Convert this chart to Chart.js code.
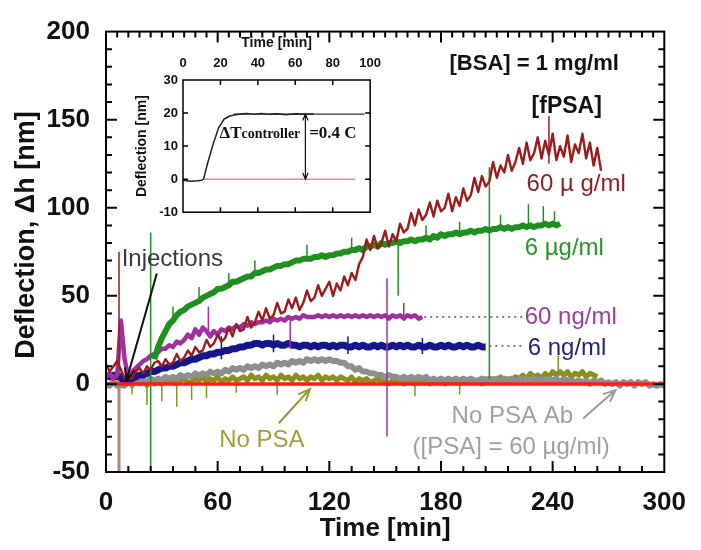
<!DOCTYPE html>
<html>
<head>
<meta charset="utf-8">
<script src="https://cdn.jsdelivr.net/npm/chart.js@4.4.0/dist/chart.umd.min.js"></script>
<style>
  body { margin: 0; background: #fff; }
  #wrap { position: relative; width: 701px; height: 550px; }
  #main { position: absolute; left: 0; top: 0; }
  #inset { position: absolute; left: 130px; top: 30px; }
</style>
</head>
<body>
<div id="wrap">
  <canvas id="main" width="701" height="550"></canvas>
  <canvas id="inset" width="260" height="195"></canvas>
</div>
<script>
// ---- data (deflection in nm, sampled every 2 min) ----
const step = 2;
const xTickValues = [0, 60, 120, 180, 240, 300];
const yTickValues = [-50, 0, 50, 100, 150, 200];

const baseline = [[0, 0], [300, 0]];

// [fPSA] = 60 ug/ml, starts at t = 0
const startDarkRed = 0;
const darkRed60ug = [11, 7, 10, 13, 8, 3, 5, 3, 7, 9, 6, 10, 8, 12, 13, 10, 14, 11, 12, 17,
  13, 15, 19, 16, 21, 18, 19, 25, 21, 23, 28, 24, 26, 32, 27, 34, 30, 31, 38, 32,
  35, 41, 36, 43, 37, 39, 46, 40, 41, 48, 43, 49, 42, 46, 53, 47, 49, 56, 50, 54,
  58, 50, 57, 53, 61, 56, 63, 59, 68, 72, 82, 76, 84, 77, 80, 87, 78, 85, 81, 91,
  86, 88, 97, 90, 99, 93, 96, 103, 95, 104, 98, 100, 108, 98, 106, 101, 111, 104, 107, 117,
  109, 118, 112, 115, 126, 117, 124, 120, 130, 121, 126, 134, 125, 137, 127, 131, 140, 128, 138, 130,
  142, 127, 135, 129, 141, 126, 136, 131, 142, 128, 137, 124, 134, 121];

// 6 ug/ml, starts at t = 26
const startGreen = 26;
const green6ug = [14, 21, 26, 30, 34, 36, 39, 41, 42, 44, 45, 46, 47, 49, 50, 51, 52, 54, 54, 55,
  56, 58, 58, 59, 60, 61, 61, 63, 63, 64, 65, 65, 66, 67, 67, 68, 68, 69, 70, 70,
  71, 71, 71, 72, 72, 73, 72, 73, 73, 74, 74, 75, 75, 76, 76, 77, 76, 78, 78, 79,
  78, 80, 79, 80, 80, 81, 80, 81, 81, 82, 81, 82, 82, 83, 82, 84, 83, 85, 84, 85,
  85, 86, 85, 86, 86, 87, 86, 87, 87, 88, 87, 88, 88, 89, 88, 89, 88, 89, 89, 90,
  89, 90, 89, 90, 90, 91, 90, 91, 90, 91];

// 60 ng/ml
const startPurple = 0;
const purple60ng = [4, 6, 3, 5, 36, 14, 4, 7, 9, 11, 13, 14, 16, 17, 18, 20, 20, 22, 21, 24,
  23, 25, 28, 26, 31, 28, 32, 30, 27, 30, 28, 31, 30, 32, 31, 33, 32, 34, 33, 35,
  34, 35, 35, 36, 35, 37, 36, 37, 36, 38, 37, 38, 37, 39, 38, 38, 38, 39, 38, 39,
  38, 39, 38, 39, 38, 39, 38, 39, 38, 39, 38, 39, 38, 39, 38, 39, 37, 39, 38, 39,
  37, 39, 38, 39, 37, 38];

// 6 ng/ml
const startBlue = 0;
const blue6ng = [5, 4, 5, 4, 4, 1, 2, 3, 4, 5, 5, 6, 7, 7, 8, 9, 9, 10, 10, 11,
  12, 12, 13, 14, 14, 15, 16, 16, 17, 17, 18, 18, 19, 19, 20, 20, 21, 21, 22, 22,
  23, 23, 22, 23, 23, 22, 23, 22, 22, 23, 22, 22, 21, 22, 22, 21, 22, 21, 22, 22,
  21, 22, 21, 22, 22, 21, 21, 22, 21, 22, 21, 21, 22, 21, 22, 21, 21, 22, 21, 22,
  21, 22, 21, 21, 22, 21, 21, 22, 21, 21, 22, 21, 22, 21, 21, 22, 21, 22, 21, 21,
  22, 21, 21];

// No PSA Ab ([PSA] = 60 ug/ml)
const startGrey = 0;
const greyNoAb = [0, -1, 1, -1, 0, -1, 1, 0, 2, 1, 2, 1, 3, 2, 3, 2, 4, 3, 4, 3,
  5, 4, 5, 4, 6, 5, 6, 5, 7, 6, 7, 6, 8, 7, 9, 8, 9, 8, 10, 9,
  10, 9, 11, 10, 11, 10, 12, 11, 12, 11, 13, 12, 13, 12, 14, 13, 14, 13, 14, 13,
  14, 13, 13, 12, 12, 10, 10, 8, 9, 7, 7, 6, 6, 5, 5, 4, 5, 4, 4, 3,
  4, 3, 4, 3, 4, 3, 4, 2, 3, 2, 3, 2, 3, 2, 3, 2, 3, 2, 3, 2,
  2, 3, 1, 3, 2, 3, 1, 3, 2, 3, 1, 3, 2, 3, 1, 3, 2, 3, 1, 3,
  2, 3, 1, 3, 2, 2, 1, 2, 1, 2, 0, 2, 1, 2, 0, 1, 0, 1, -1, 1,
  0, 1, -1, 1, 0, 1, -1, 0, -1, 0, -1];

// No PSA
const startOlive = 0;
const oliveNoPSA = [0, -1, 1, 0, -1, 0, 1, -1, 2, 0, 2, -1, 2, 0, 3, 0, 2, 1, 3, 0,
  2, 3, 1, 1, 3, 2, 4, 1, 3, 2, 4, 1, 3, 2, 4, 2, 3, 4, 2, 5,
  3, 4, 2, 5, 3, 4, 2, 5, 3, 4, 2, 5, 3, 4, 2, 4, 3, 5, 2, 4,
  3, 4, 2, 4, 3, 2, 4, 1, 3, 2, 3, 1, 2, 3, 1, 2, 0, 2, 1, 3,
  0, 2, 1, 0, 2, 1, 3, 0, 2, 1, 3, 0, 2, 1, 3, 0, 2, 1, 3, 1,
  2, 0, 3, 2, 3, 1, 4, 2, 3, 2, 4, 3, 5, 3, 6, 4, 5, 3, 6, 4,
  7, 5, 7, 5, 7, 4, 6, 5, 7, 4, 6, 5, 4];

// single-sample spikes: [time, low, high]
const spikesDarkRed = [[7, 10, 75], [238, 125, 152]];
const spikesTan = [[7, -50, 10]];
const spikesGreen = [[24, -50, 86], [36, 36, 44], [50, 46, 55], [66, 55, 63], [80, 62, 70],
  [108, 70, 79], [132, 75, 83], [157, 50, 80], [172, 82, 90], [190, 84, 92], [206, 3, 123],
  [212, 88, 96], [227, 88, 102], [235, 89, 101], [241, 90, 98]];
const spikesPurple = [[55, 30, 44], [99, 20, 38], [151, -30, 60], [160, 36, 46]];
const spikesBlue = [[62, 14, 27], [90, 18, 28], [130, 17, 27], [170, 17, 26]];
const spikesOlive = [[14, -6, 2], [22, -12, 2], [30, -10, 2], [38, -13, 2], [46, -9, 2], [54, -8, 2],
  [70, -5, 2], [92, -6, 2], [166, -7, 2], [190, -6, 2], [243, 5, 16]];

// inset: response to a 0.4 C controller step
const insetXTicks = [0, 20, 40, 60, 80, 100];
const insetYTicks = [-10, 0, 10, 20, 30];
const insetTime = [0, 4, 8, 10, 11, 13, 16, 19, 22, 25, 28, 31, 34, 38, 42, 46, 50, 55, 60, 65, 70];
const insetDefl = [-0.3, -0.6, -0.5, -0.3, 0, 4.5, 10.4, 15.5, 18.2, 19.1, 19.5, 19.7, 19.9, 19.6, 19.9, 19.6, 19.8, 19.5, 19.8, 19.6, 19.7];
const insetRefTime = [27, 97];
const insetRefDefl = [19.7, 19.7];
const insetZeroTime = [11, 92];
const insetZeroDefl = [0, 0];

const FONT = '"Liberation Sans", Arial, Helvetica, sans-serif';
const SERIF = '"Liberation Serif", "Times New Roman", serif';
Chart.defaults.font.family = FONT;
Chart.defaults.color = '#111';

const toPoints = (start, vals) => vals.map((v, i) => ({ x: start + i * step, y: v }));
const toSpikes = list => list.flatMap(([t, lo, hi]) => [{ x: t, y: lo }, { x: t, y: hi }, { x: t, y: null }]);
const pairs = (xs, ys) => xs.map((x, i) => ({ x: x, y: ys[i] }));

const line = (data, color, width) => ({
  data: data,
  borderColor: color,
  borderWidth: width,
  pointRadius: 0,
  fill: false,
  tension: 0,
  spanGaps: false,
  borderJoinStyle: 'round'
});

function arrow(ctx, x1, y1, x2, y2, color, width, head, both) {
  ctx.save();
  ctx.strokeStyle = color;
  ctx.lineWidth = width;
  ctx.beginPath();
  ctx.moveTo(x1, y1);
  ctx.lineTo(x2, y2);
  const heads = both ? [[x2, y2, x1, y1], [x1, y1, x2, y2]] : [[x2, y2, x1, y1]];
  heads.forEach(([hx, hy, fx, fy]) => {
    const a = Math.atan2(hy - fy, hx - fx);
    ctx.moveTo(hx - head * Math.cos(a - 0.4), hy - head * Math.sin(a - 0.4));
    ctx.lineTo(hx, hy);
    ctx.lineTo(hx - head * Math.cos(a + 0.4), hy - head * Math.sin(a + 0.4));
  });
  ctx.stroke();
  ctx.restore();
}

// text notes, positioned in data units
const notes = [
  { text: '[BSA] = 1 mg/ml', t: 184.6, v: 181.7, color: '#111', font: 'bold 22px ' + FONT },
  { text: '[fPSA]', t: 228.7, v: 157.4, color: '#111', font: 'bold 23px ' + FONT },
  { text: '60 \u00b5 g/ml', t: 226, v: 113.2, color: '#8e1f1f', font: '24px ' + FONT },
  { text: '6 \u00b5g/ml', t: 225, v: 76.7, color: '#2a952a', font: '24px ' + FONT },
  { text: '60 ng/ml', t: 225, v: 37.9, color: '#9a3f9a', font: '24px ' + FONT },
  { text: '6 ng/ml', t: 226.6, v: 20.2, color: '#25257e', font: '24px ' + FONT },
  { text: 'No PSA Ab', t: 185.7, v: -18.4, color: '#a0a0a0', font: '24px ' + FONT },
  { text: '([PSA] = 60 \u00b5g/ml)', t: 164.7, v: -36.2, color: '#a0a0a0', font: '24px ' + FONT },
  { text: 'No PSA', t: 60.8, v: -32.3, color: '#a0a03a', font: '24px ' + FONT },
  { text: 'Injections', t: 8.4, v: 70.6, color: '#3a3a3a', font: '24px ' + FONT }
];
const noteArrows = [
  { from: [27.3, 62.7], to: [11.0, 2.0], color: '#111' },
  { from: [92.8, -22.3], to: [109.6, -2.9], color: '#9a9a30' },
  { from: [256.4, -19.6], to: [273.8, -3.5], color: '#9a9a9a' }
];
const dotted = [
  { t0: 171, t1: 224, v: 38 },
  { t0: 206, t1: 225, v: 21.5 }
];

const mainDecor = {
  id: 'mainDecor',
  afterDraw(chart) {
    const { ctx, chartArea: a, scales: { x, y } } = chart;
    ctx.save();
    // frame and inward ticks
    ctx.strokeStyle = '#000';
    ctx.lineWidth = 2;
    ctx.strokeRect(a.left, a.top, a.right - a.left, a.bottom - a.top);
    ctx.beginPath();
    for (let t = 12; t < 300; t += 12) {
      const px = x.getPixelForValue(t);
      const len = t % 60 === 0 ? 11 : 6;
      ctx.moveTo(px, a.bottom); ctx.lineTo(px, a.bottom - len);
    }
    for (let t = 6; t < 300; t += 6) {
      const px = x.getPixelForValue(t);
      const len = t % 60 === 0 ? 11 : 6;
      ctx.moveTo(px, a.top); ctx.lineTo(px, a.top + len);
    }
    for (let v = -40; v < 200; v += 10) {
      const py = y.getPixelForValue(v);
      const len = v % 50 === 0 ? 11 : 6;
      ctx.moveTo(a.left, py); ctx.lineTo(a.left + len, py);
      ctx.moveTo(a.right, py); ctx.lineTo(a.right - len, py);
    }
    ctx.stroke();

    // dotted leaders
    ctx.setLineDash([2, 4]);
    ctx.lineWidth = 1.5;
    ctx.strokeStyle = '#555';
    dotted.forEach(d => {
      ctx.beginPath();
      ctx.moveTo(x.getPixelForValue(d.t0), y.getPixelForValue(d.v));
      ctx.lineTo(x.getPixelForValue(d.t1), y.getPixelForValue(d.v));
      ctx.stroke();
    });
    ctx.setLineDash([]);

    noteArrows.forEach(n => arrow(ctx,
      x.getPixelForValue(n.from[0]), y.getPixelForValue(n.from[1]),
      x.getPixelForValue(n.to[0]), y.getPixelForValue(n.to[1]), n.color, 2, 13, false));

    ctx.textBaseline = 'middle';
    ctx.textAlign = 'left';
    notes.forEach(n => {
      ctx.font = n.font;
      ctx.fillStyle = n.color;
      ctx.fillText(n.text, x.getPixelForValue(n.t), y.getPixelForValue(n.v));
    });

    // y axis title
    ctx.translate(27, 235);
    ctx.rotate(-Math.PI / 2);
    ctx.textAlign = 'center';
    ctx.font = 'bold 27px ' + FONT;
    ctx.fillStyle = '#111';
    ctx.fillText('Deflection, \u0394h [nm]', 0, 0);
    ctx.restore();
  }
};

new Chart(document.getElementById('main'), {
  type: 'line',
  data: {
    datasets: [
      line(pairs(baseline.map(p => p[0]), baseline.map(p => p[1])), '#ff1a1a', 3.5),
      line(toSpikes(spikesDarkRed), '#9a1c1c', 1.5),
      line(toPoints(startDarkRed, darkRed60ug), '#9a1c1c', 2.4),
      line(toSpikes(spikesGreen), '#1f8f1f', 1.5),
      line(toPoints(startGreen, green6ug), '#1f8f1f', 6),
      line(toSpikes(spikesPurple), '#a030a0', 1.5),
      line(toPoints(startPurple, purple60ng), '#a030a0', 4.5),
      line(toSpikes(spikesBlue), '#16168c', 1.5),
      line(toPoints(startBlue, blue6ng), '#16168c', 7),
      line(toPoints(startGrey, greyNoAb), '#8e8e8e', 6),
      line(toSpikes(spikesOlive), '#8e8e1a', 1.5),
      line(toPoints(startOlive, oliveNoPSA), '#8e8e1a', 5),
      line(toSpikes(spikesTan), '#b08a78', 3)
    ]
  },
  options: {
    responsive: false,
    animation: false,
    layout: { padding: { top: 20, right: 23, left: 0, bottom: 0 } },
    plugins: { legend: { display: false }, tooltip: { enabled: false } },
    scales: {
      x: {
        type: 'linear', min: 0, max: 300,
        afterBuildTicks: s => { s.ticks = xTickValues.map(v => ({ value: v })); },
        afterFit: s => { s.height = 78; },
        ticks: { font: { size: 26, weight: 'bold' }, color: '#111', padding: 15, maxRotation: 0 },
        grid: { display: false, drawTicks: false },
        border: { display: false },
        title: { display: true, text: 'Time [min]', font: { size: 26, weight: 'bold' }, color: '#111', padding: { top: 0, bottom: 6 } }
      },
      y: {
        type: 'linear', min: -50, max: 200,
        afterBuildTicks: s => { s.ticks = yTickValues.map(v => ({ value: v })); },
        afterFit: s => { s.width = 106; },
        ticks: { font: { size: 26, weight: 'bold' }, color: '#111', padding: 16 },
        grid: { display: false, drawTicks: false },
        border: { display: false }
      }
    }
  },
  plugins: [mainDecor]
});

// ---- inset ----
const insetDecor = {
  id: 'insetDecor',
  afterDraw(chart) {
    const { ctx, chartArea: a, scales: { x, y } } = chart;
    ctx.save();
    ctx.strokeStyle = '#000';
    ctx.lineWidth = 1.5;
    ctx.strokeRect(a.left, a.top, a.right - a.left, a.bottom - a.top);
    ctx.beginPath();
    insetXTicks.slice(1, -1).forEach(t => {
      const px = x.getPixelForValue(t);
      ctx.moveTo(px, a.top); ctx.lineTo(px, a.top + 5);
      ctx.moveTo(px, a.bottom); ctx.lineTo(px, a.bottom - 5);
    });
    insetYTicks.slice(1, -1).forEach(v => {
      const py = y.getPixelForValue(v);
      ctx.moveTo(a.left, py); ctx.lineTo(a.left + 5, py);
      ctx.moveTo(a.right, py); ctx.lineTo(a.right - 5, py);
    });
    ctx.stroke();

    const ax = x.getPixelForValue(65.4);
    arrow(ctx, ax, y.getPixelForValue(19.7), ax, y.getPixelForValue(0), '#111', 1.2, 7, true);

    ctx.fillStyle = '#111';
    ctx.textBaseline = 'middle';
    ctx.textAlign = 'left';
    const ty = y.getPixelForValue(13.8);
    let tx = x.getPixelForValue(19.5);
    ctx.font = 'bold 17px ' + SERIF;
    ctx.fillText('\u0394T', tx, ty);
    tx += ctx.measureText('\u0394T').width;
    ctx.font = 'bold 14px ' + SERIF;
    ctx.fillText('controller', tx, ty + 1);
    ctx.font = 'bold 17px ' + SERIF;
    ctx.fillText('=0.4 C', x.getPixelForValue(67.4), ty);
    ctx.restore();
  }
};

new Chart(document.getElementById('inset'), {
  type: 'line',
  data: {
    datasets: [
      line(pairs(insetTime, insetDefl), '#222', 1.5),
      line(pairs(insetRefTime, insetRefDefl), '#333', 1.2),
      line(pairs(insetZeroTime, insetZeroDefl), '#f08a8a', 1.5)
    ]
  },
  options: {
    responsive: false,
    animation: false,
    layout: { padding: { top: 0, right: 15, left: 0, bottom: 9 } },
    plugins: { legend: { display: false }, tooltip: { enabled: false } },
    scales: {
      x: {
        type: 'linear', position: 'top', min: 0, max: 100,
        afterBuildTicks: s => { s.ticks = insetXTicks.map(v => ({ value: v })); },
        afterFit: s => { s.height = 50; },
        ticks: { font: { size: 13, weight: 'bold' }, color: '#111', padding: 9, maxRotation: 0 },
        grid: { display: false, drawTicks: false },
        border: { display: false },
        title: { display: true, text: 'Time [min]', font: { size: 14, weight: 'bold' }, color: '#111', padding: { top: 5, bottom: 0 } }
      },
      y: {
        type: 'linear', min: -10, max: 30,
        afterBuildTicks: s => { s.ticks = insetYTicks.map(v => ({ value: v })); },
        afterFit: s => { s.width = 53; },
        ticks: { font: { size: 13, weight: 'bold' }, color: '#111', padding: 5 },
        grid: { display: false, drawTicks: false },
        border: { display: false },
        title: { display: true, text: 'Deflection [nm]', font: { size: 14, weight: 'bold' }, color: '#111', padding: { top: 4, bottom: 0 } }
      }
    }
  },
  plugins: [insetDecor]
});
</script>
</body>
</html>
